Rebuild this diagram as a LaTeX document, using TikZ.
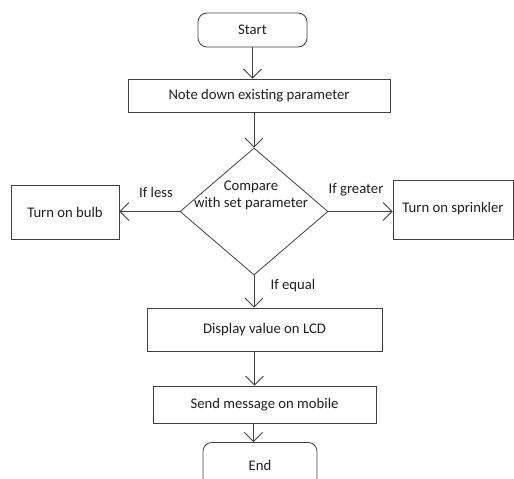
\documentclass[tikz,border=0pt]{standalone}
\usepackage{fontspec}
\setmainfont{Carlito}
\usetikzlibrary{arrows.meta,shapes.geometric}
\definecolor{ln}{HTML}{404040}
\definecolor{tx}{HTML}{202020}
\begin{document}
\begin{tikzpicture}[x=1pt,y=-1pt,
  every node/.style={font=\fontsize{14.7}{17}\selectfont, text=tx},
  box/.style={draw=ln, line width=0.8pt, rectangle, inner sep=0pt},
  term/.style={box, rounded corners=9pt},
  conn/.style={draw=ln, line width=0.8pt, -{Straight Barb[length=9pt,width=18pt,line width=0.8pt]}},
  lbl/.style={inner sep=0pt}]
\useasboundingbox (0,0) rectangle (514,479);
\clip (0,0) rectangle (514,479);
\fill[white] (0,0) rectangle (514,479);
% nodes
\node[term, minimum width=109pt, minimum height=34pt] (start) at (252.5,30) {Start};
\node[box, minimum width=262pt, minimum height=33pt] (note) at (259,95.5) {Note down existing parameter};
\node[diamond, draw=ln, line width=0.8pt, minimum width=148pt, minimum height=127pt, inner sep=0pt] (dia) at (254,211.5) {};
\node[lbl, align=center] (cmp) at (251,195) {Compare\\with set parameter};
\node[box, minimum width=108pt, minimum height=54pt] (bulb) at (65,212) {Turn on bulb};
\node[box, minimum width=120pt, minimum height=59pt, text depth=5pt] (spr) at (453,209.5) {Turn on sprinkler};
\node[box, minimum width=235pt, minimum height=43pt] (disp) at (264.5,329.5) {Display value on LCD};
\node[box, minimum width=223pt, minimum height=37pt] (send) at (264.5,404.5) {Send message on mobile};
\node[term, minimum width=114pt, minimum height=60pt, anchor=north] (endn) at (260,442) {};
\node[lbl] (endt) at (260,465) {End};
% labels
\node[lbl] (lless) at (156,192) {If less};
\node[lbl] (lgreat) at (356,190) {If greater};
\node[lbl] (leq) at (293,286) {If equal};
% connectors
\draw[conn] (start.south) -- (start.south |- note.north);
\draw[conn] (dia.north |- note.south) -- (dia.north);
\draw[conn] (dia.west) -- (dia.west -| bulb.east);
\draw[conn] (dia.east) -- (dia.east -| spr.west);
\draw[conn] (dia.south) -- (dia.south |- disp.north);
\draw[conn] ([xshift=-10pt]disp.south) -- ([xshift=-10pt]send.north);
\draw[conn] ([xshift=-11pt]send.south) -- ([xshift=-11pt]send.south |- endn.north);
\end{tikzpicture}
\end{document}
